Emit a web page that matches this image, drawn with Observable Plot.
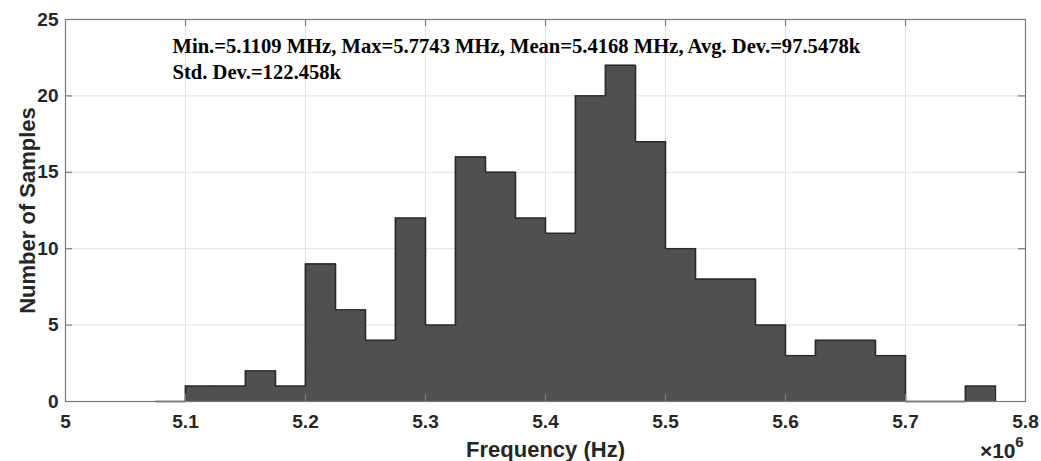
<!DOCTYPE html>
<html>
<head>
<meta charset="utf-8">
<script src="https://cdn.jsdelivr.net/npm/d3@7"></script>
<script src="https://cdn.jsdelivr.net/npm/@observablehq/plot@0.6"></script>
<style>
  html, body { margin: 0; padding: 0; background: #fff; }
</style>
</head>
<body>
<div id="chart"></div>
<script>
// Histogram bins (MHz): start of each bin, width 0.025 MHz
const binStarts = [5.075, 5.1, 5.125, 5.15, 5.175, 5.2, 5.225, 5.25, 5.275, 5.3, 5.325, 5.35, 5.375, 5.4,
                   5.425, 5.45, 5.475, 5.5, 5.525, 5.55, 5.575, 5.6, 5.625, 5.65, 5.675, 5.7, 5.725, 5.75];
const counts    = [0, 1, 1, 2, 1, 9, 6, 4, 12, 5, 16, 15, 12, 11,
                   20, 22, 17, 10, 8, 8, 5, 3, 4, 4, 3, 0, 0, 1];
const binWidth = 0.025;
const xTicks = [5, 5.1, 5.2, 5.3, 5.4, 5.5, 5.6, 5.7, 5.8];
const yTicks = [0, 5, 10, 15, 20, 25];
const xLabel = "Frequency (Hz)";
const yLabel = "Number of Samples";
const statsLine1 = "Min.=5.1109 MHz, Max=5.7743 MHz, Mean=5.4168 MHz, Avg. Dev.=97.5478k";
const statsLine2 = "Std. Dev.=122.458k";
const exponentBase = "×10";
const exponentPower = "6";

const bins = binStarts.map((s, i) => ({x1: s, x2: s + binWidth, count: counts[i]}));
const outline = bins.flatMap(b => [{x: b.x1, y: b.count}, {x: b.x2, y: b.count}]);
const nonEmpty = bins.filter(b => b.count > 0);

const axisColor = "#262626";
const frameColor = "#7a7a7a";
const edgeColor = "#2a2a2a";
const barFill = "#505050";
const sans = "'Liberation Sans', Arial, Helvetica, sans-serif";
const serif = "'Liberation Serif', 'Times New Roman', Times, serif";
const fmt = d => String(+(+d).toFixed(1));

const chart = Plot.plot({
  width: 1041,
  height: 461,
  marginLeft: 65,
  marginRight: 16,
  marginTop: 19,
  marginBottom: 60,
  style: {fontFamily: sans, fontWeight: "bold", fontSize: "19px", color: axisColor, background: "#fff"},
  x: {domain: [5, 5.8], ticks: xTicks, tickFormat: fmt},
  y: {domain: [0, 25], ticks: yTicks},
  marks: [
    Plot.gridX(xTicks, {stroke: "#e2e2e2", strokeOpacity: 1}),
    Plot.gridY(yTicks, {stroke: "#e2e2e2", strokeOpacity: 1}),
    Plot.rectY(nonEmpty, {x1: "x1", x2: "x2", y1: 0, y2: "count", fill: barFill, stroke: barFill, strokeWidth: 0.5}),
    Plot.line(outline, {x: "x", y: "y", stroke: edgeColor, strokeWidth: 1.3}),
    Plot.ruleX(bins.slice(1), {x: "x1", y1: (d, i) => bins[i].count, y2: "count", stroke: edgeColor, strokeWidth: 1.3}),
    Plot.ruleX([bins[bins.length - 1]], {x: "x2", y1: 0, y2: "count", stroke: edgeColor, strokeWidth: 1.3}),
    Plot.ruleX([bins[0]], {x: "x1", y1: 0, y2: "count", stroke: edgeColor, strokeWidth: 1.3}),
    Plot.frame({stroke: frameColor, strokeWidth: 1.2}),
    // inward ticks (MATLAB style)
    Plot.ruleX(xTicks.slice(1, -1), {x: d => d, y1: 0, y2: 0, insetTop: -7, stroke: frameColor, strokeWidth: 1.2}),
    Plot.ruleX(xTicks.slice(1, -1), {x: d => d, y1: 25, y2: 25, insetBottom: -7, stroke: frameColor, strokeWidth: 1.2}),
    Plot.ruleY(yTicks.slice(1, -1), {y: d => d, x1: 5, x2: 5, insetRight: -7, stroke: frameColor, strokeWidth: 1.2}),
    Plot.ruleY(yTicks.slice(1, -1), {y: d => d, x1: 5.8, x2: 5.8, insetLeft: -7, stroke: frameColor, strokeWidth: 1.2}),
    Plot.axisX(xTicks, {tickSize: 0, tickPadding: 13, label: null, tickFormat: fmt, fill: axisColor, fontSize: 19}),
    Plot.axisY(yTicks, {tickSize: 0, tickPadding: 7, label: null, fill: axisColor, fontSize: 19}),
    Plot.text([xLabel], {frameAnchor: "bottom", dy: 48, lineAnchor: "middle", fontSize: 22, fontWeight: "bold", fill: axisColor}),
    Plot.text([yLabel], {frameAnchor: "left", dx: -38, rotate: -90, textAnchor: "middle", lineAnchor: "middle", fontSize: 22, fontWeight: "bold", fill: axisColor}),
    Plot.text([statsLine1], {frameAnchor: "top-left", dx: 107, dy: 27, textAnchor: "start", lineAnchor: "middle",
      fontFamily: serif, fontWeight: "bold", fontSize: 20.6, fill: "#000"}),
    Plot.text([statsLine2], {frameAnchor: "top-left", dx: 107, dy: 53, textAnchor: "start", lineAnchor: "middle",
      fontFamily: serif, fontWeight: "bold", fontSize: 20.6, fill: "#000"}),
    Plot.text([exponentBase], {frameAnchor: "bottom-right", dx: -10, dy: 50, textAnchor: "end", lineAnchor: "middle",
      fontSize: 21, fontWeight: "bold", fill: axisColor}),
    Plot.text([exponentPower], {frameAnchor: "bottom-right", dx: -2, dy: 41, textAnchor: "end", lineAnchor: "middle",
      fontSize: 15, fontWeight: "bold", fill: axisColor})
  ]
});
document.getElementById("chart").appendChild(chart);
</script>
</body>
</html>
